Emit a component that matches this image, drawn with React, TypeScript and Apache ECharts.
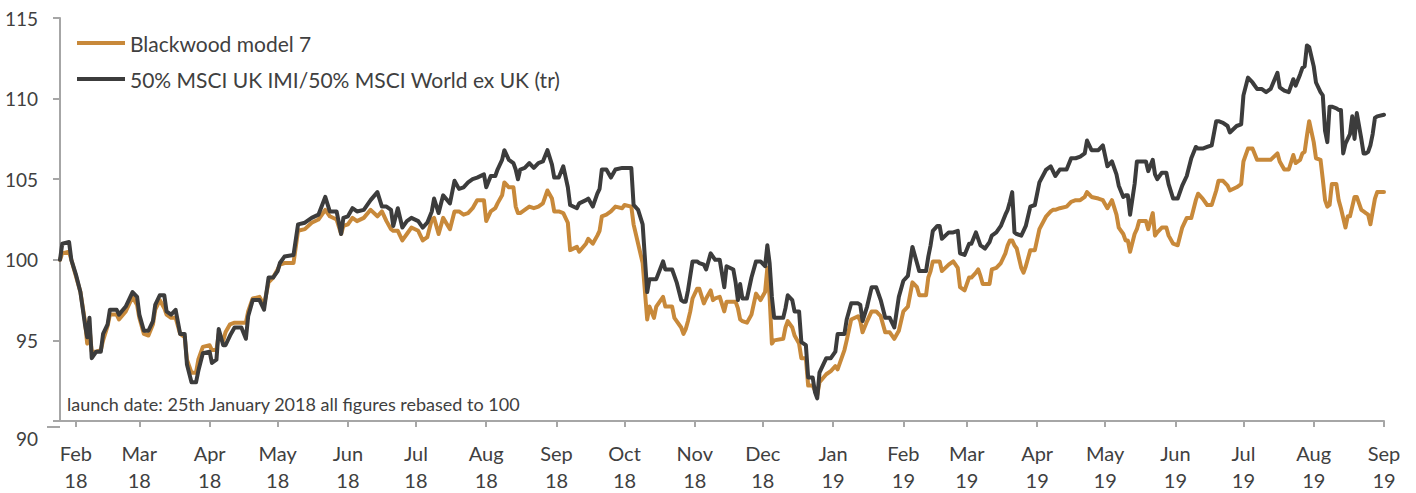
import React, { useEffect, useRef } from "react";
import * as echarts from "echarts";

// Days since launch (25 Jan 2018)
const days = [
  0, 1, 4, 5, 7, 9, 11, 12, 13, 14, 16, 18, 19, 21, 22, 25, 26, 29, 32, 34, 35, 37, 39, 41, 42, 44, 46, 47, 49, 51,
  53, 55, 56, 58, 60, 61, 63, 66, 67, 69, 70, 72, 73, 75, 77, 80, 82, 83, 85, 88, 90, 92, 94, 96, 97, 99,
  103, 105, 108, 111, 114, 117, 119, 122, 124, 125, 127, 129, 131, 134, 137, 140, 142, 144, 146, 147, 149, 151,
  153, 155, 158, 160, 162, 164, 165, 167, 169, 172, 174, 176, 178, 180, 182, 184, 187, 188, 190, 192, 193, 195,
  196, 198, 200, 201, 202, 203, 205, 207, 209, 211, 213, 215, 217, 218, 220, 222, 224, 225, 228, 229, 232, 233,
  235, 237, 238, 239, 241, 243, 245, 248, 249, 252, 253, 255, 257, 259, 260, 262, 263, 266, 267, 270, 271, 272,
  274, 275, 276, 277, 278, 279, 281, 282, 284, 285, 287, 288, 289, 291, 293, 294, 297, 298, 299, 300, 301, 303,
  305, 307, 309, 311, 312, 313, 314, 315, 319, 320, 321, 323, 324, 326, 327, 329, 330, 332, 333, 334, 335, 338,
  340, 342, 343, 346, 347, 349, 352, 353, 354, 356, 358, 360, 362, 364, 366, 368, 370, 372, 374, 376, 378, 379,
  382, 383, 384, 385, 387, 388, 389, 392, 394, 396, 397, 399, 401, 402, 404, 405, 406, 407, 408, 410, 411, 413,
  415, 417, 418, 419, 420, 421, 422, 424, 425, 426, 428, 430, 432, 435, 437, 438, 439, 441, 444, 446, 448, 450,
  452, 453, 455, 458, 460, 462, 464, 466, 467, 469, 470, 471, 472, 474, 475, 476, 479, 480, 482, 483, 484, 486,
  488, 489, 491, 493, 495, 497, 499, 501, 502, 504, 506, 508, 510, 511, 513, 515, 516, 519, 521, 522, 524, 526,
  528, 530, 532, 534, 537, 538, 540, 542, 544, 545, 547, 548, 549, 550, 551, 553, 554, 556, 557, 558, 559, 560,
  561, 563, 564, 565, 566, 567, 568, 569, 570, 571, 572, 574, 575, 576, 577, 578, 579, 580, 581, 584,
];

const msciBlend = [
  100.0, 101.0, 101.1, 100.0, 99.1, 98.0, 96.0, 95.2, 96.4, 93.9, 94.3, 94.3, 95.4, 96.0, 96.9, 96.9, 96.6, 97.1, 98.0, 97.7, 96.6, 95.6, 95.6, 96.2, 97.2, 97.8, 97.8, 96.8, 96.6, 96.9,
  95.4, 95.4, 93.5, 92.4, 92.4, 93.1, 94.2, 94.3, 93.6, 93.8, 95.7, 94.7, 94.7, 95.3, 95.8, 95.8, 95.1, 96.5, 97.5, 97.5, 96.9, 98.9, 98.9, 99.3, 99.8, 100.2,
  100.3, 102.2, 102.3, 102.6, 102.8, 103.9, 103.0, 103.0, 101.6, 102.6, 102.7, 103.2, 103.0, 103.1, 103.7, 104.2, 103.3, 103.3, 103.1, 102.1, 103.2, 102.0,
  102.4, 102.6, 102.4, 102.0, 102.3, 103.0, 103.8, 102.9, 104.0, 103.5, 104.9, 104.4, 104.5, 104.8, 105.0, 105.1, 105.3, 104.5, 105.2, 105.2, 105.6, 106.2,
  106.8, 106.2, 106.0, 105.6, 105.0, 105.6, 105.7, 106.0, 105.7, 106.0, 106.1, 106.8, 105.9, 105.1, 105.1, 105.8, 104.5, 103.4, 103.2, 103.5, 103.7, 103.8,
  103.3, 104.1, 104.4, 105.6, 105.6, 105.1, 105.6, 105.7, 105.7, 105.7, 103.4, 103.1, 102.2, 98.0, 98.8, 98.8, 98.8, 99.9, 99.4, 99.4, 99.0, 98.6,
  97.5, 97.4, 97.4, 98.1, 99.0, 99.9, 99.9, 99.8, 99.7, 99.4, 100.4, 100.2, 100.0, 100.0, 98.3, 99.6, 99.4, 98.6, 97.5, 98.5, 97.6, 97.6,
  98.9, 99.9, 99.9, 99.6, 100.9, 99.8, 97.7, 96.4, 96.4, 97.0, 97.8, 97.5, 96.8, 96.8, 94.9, 94.7, 92.7, 92.7, 91.8, 91.4, 93.0, 93.9,
  93.9, 94.3, 95.4, 95.4, 96.3, 97.3, 97.3, 97.2, 96.2, 97.1, 98.3, 98.3, 97.5, 96.4, 96.4, 95.8, 97.7, 98.7, 99.0, 100.8, 99.8, 99.3,
  99.3, 100.2, 100.9, 101.8, 102.1, 102.1, 101.3, 101.7, 101.7, 101.8, 100.4, 100.3, 101.0, 101.0, 101.7, 101.3, 100.9, 100.8, 100.7, 101.1, 101.5, 101.7,
  102.1, 102.8, 103.1, 103.6, 104.2, 101.7, 101.6, 101.5, 101.8, 102.1, 103.3, 103.4, 104.8, 105.6, 105.8, 105.5, 105.2, 105.6, 105.6, 106.3, 106.3, 106.4,
  106.6, 107.4, 106.8, 106.8, 107.1, 105.8, 106.1, 105.3, 104.6, 103.9, 104.0, 104.0, 102.8, 104.7, 106.1, 106.1, 106.1, 105.5, 106.2, 105.3, 105.0, 105.4,
  105.4, 104.7, 103.8, 103.8, 104.6, 105.2, 106.3, 107.0, 106.9, 106.9, 107.0, 107.1, 108.6, 108.6, 108.5, 108.3, 107.9, 108.3, 108.4, 110.2, 111.3, 111.0,
  110.6, 110.6, 110.4, 110.6, 111.6, 110.7, 110.5, 110.4, 111.2, 110.8, 111.5, 111.9, 112.0, 113.3, 113.2, 112.0, 111.0, 110.4, 110.2, 108.0, 107.3, 109.5,
  109.5, 109.4, 109.3, 109.3, 106.6, 107.2, 107.5, 107.8, 108.9, 107.5, 109.1, 107.5, 106.6, 106.6, 106.7, 107.1, 107.8, 108.8, 108.9, 109.0,
];

const blackwood = [
  100.0, 100.4, 100.5, 100.0, 99.0, 98.0, 96.2, 94.8, 95.8, 94.3, 94.3, 94.4, 95.0, 95.9, 96.6, 96.6, 96.3, 96.8, 97.7, 97.2, 96.4, 95.4, 95.3, 96.0, 96.9, 97.5, 97.0, 96.6, 96.4, 96.4,
  95.4, 95.2, 93.8, 93.0, 93.0, 93.8, 94.6, 94.7, 94.4, 94.4, 95.4, 95.0, 95.5, 96.0, 96.1, 96.1, 96.1, 96.8, 97.6, 97.7, 97.2, 98.6, 98.9, 99.4, 99.7, 99.8,
  99.8, 101.8, 101.9, 102.3, 102.5, 103.1, 102.7, 102.5, 101.6, 102.1, 102.2, 102.6, 102.4, 102.6, 103.1, 102.7, 103.0, 102.4, 101.9, 101.8, 101.8, 101.2,
  101.6, 102.0, 101.8, 101.2, 101.4, 102.5, 102.6, 101.6, 102.6, 101.9, 103.0, 103.0, 102.8, 102.9, 103.2, 103.7, 103.7, 102.4, 103.0, 103.2, 103.5, 104.0,
  104.8, 104.5, 104.5, 103.3, 102.9, 102.9, 103.1, 103.3, 103.2, 103.3, 103.5, 104.3, 103.8, 103.0, 103.0, 102.9, 102.3, 100.6, 100.8, 100.5, 101.0, 101.3,
  101.0, 101.5, 101.8, 102.7, 102.8, 103.0, 103.3, 103.2, 103.4, 103.3, 102.2, 101.0, 99.8, 96.3, 97.1, 96.4, 97.1, 97.7, 97.1, 97.1, 96.4, 96.2,
  95.8, 95.4, 95.7, 96.2, 96.8, 97.6, 98.2, 98.2, 97.3, 97.6, 98.1, 97.5, 97.6, 97.7, 96.8, 97.4, 97.4, 97.4, 97.0, 96.3, 96.2, 96.1,
  96.6, 97.9, 97.5, 98.0, 99.5, 97.7, 94.8, 95.0, 95.1, 95.8, 96.2, 95.8, 95.3, 94.8, 93.9, 93.9, 92.2, 92.2, 91.9, 91.6, 92.4, 92.9,
  93.1, 93.4, 93.2, 94.4, 95.0, 96.3, 96.5, 96.2, 95.5, 96.2, 96.8, 96.8, 96.5, 95.5, 95.5, 95.1, 95.6, 96.8, 97.1, 98.6, 98.3, 97.8,
  97.8, 98.9, 99.3, 99.9, 99.9, 99.9, 99.3, 99.7, 99.9, 99.5, 98.3, 98.1, 98.9, 98.9, 99.2, 99.4, 99.0, 98.5, 98.5, 98.5, 99.4, 99.5,
  99.8, 100.4, 100.9, 101.2, 101.2, 100.9, 100.7, 99.5, 99.2, 99.6, 100.6, 100.6, 101.9, 102.7, 103.0, 103.1, 103.1, 103.2, 103.3, 103.6, 103.7, 103.7,
  103.9, 104.2, 103.9, 103.8, 103.7, 103.2, 103.7, 102.8, 102.0, 101.6, 101.2, 101.2, 100.5, 101.6, 101.9, 102.4, 102.4, 101.9, 102.9, 101.5, 101.7, 102.0,
  102.0, 101.5, 101.0, 100.9, 102.0, 102.6, 102.6, 103.7, 104.1, 103.8, 103.4, 103.4, 104.3, 104.9, 104.9, 104.6, 104.3, 104.5, 104.7, 106.1, 106.9, 106.9,
  106.2, 106.2, 106.2, 106.2, 106.6, 106.1, 105.6, 105.6, 106.5, 106.0, 106.2, 106.6, 106.7, 107.7, 108.6, 107.3, 106.3, 106.2, 105.0, 103.7, 103.3, 103.4,
  104.7, 104.7, 103.7, 103.2, 102.6, 102.0, 102.7, 102.7, 103.3, 103.9, 103.9, 103.1, 103.0, 102.9, 102.8, 102.2, 103.0, 103.8, 104.2, 104.2,
];

const monthTickDays = [7, 35, 66, 96, 127, 157, 188, 219, 249, 280, 310, 341, 372, 400, 431, 461, 492, 522, 553, 584];
const monthTickLabels = [
  "Feb\n18", "Mar\n18", "Apr\n18", "May\n18", "Jun\n18", "Jul\n18", "Aug\n18", "Sep\n18", "Oct\n18", "Nov\n18",
  "Dec\n18", "Jan\n19", "Feb\n19", "Mar\n19", "Apr\n19", "May\n19", "Jun\n19", "Jul\n19", "Aug\n19", "Sep\n19",
];

const seriesNames = ["Blackwood model 7", "50% MSCI UK IMI/50% MSCI World ex UK (tr)"];
const noteText = "launch date: 25th January 2018 all figures rebased to 100";

const FONT = "Lato, 'Open Sans', sans-serif";
const TEXT = "#404040";
const AXIS = "#a6a6a6";

export default function App() {
  const ref = useRef<HTMLDivElement>(null);
  useEffect(() => {
    document.body.style.margin = "0";
    if (!ref.current) return;
    const chart = echarts.init(ref.current, undefined, { renderer: "svg" });
    const bwData = days.map((d, i) => [d, blackwood[i]]);
    const msData = days.map((d, i) => [d, msciBlend[i]]);
    chart.setOption({
      animation: false,
      grid: { left: 60, right: 32, top: 18, bottom: 66, containLabel: false },
      legend: {
        orient: "vertical",
        left: 77,
        top: 32,
        padding: 0,
        itemWidth: 48,
        itemHeight: 4,
        itemGap: 14,
        icon: "rect",
        textStyle: { fontFamily: FONT, fontSize: 21, color: TEXT, lineHeight: 22 },
        data: seriesNames,
      },
      xAxis: {
        type: "value",
        min: 0,
        max: 584,
        axisLine: { show: true, onZero: false, lineStyle: { color: AXIS, width: 2 } },
        axisTick: { show: true, customValues: monthTickDays, length: 6, lineStyle: { color: AXIS, width: 2 } },
        axisLabel: {
          customValues: monthTickDays,
          formatter: (v: number) => {
            const i = monthTickDays.indexOf(Math.round(v));
            return i >= 0 ? monthTickLabels[i] : "";
          },
          fontFamily: FONT,
          fontSize: 20,
          lineHeight: 27,
          color: TEXT,
          margin: 18,
          showMinLabel: true,
          showMaxLabel: true,
        },
        splitLine: { show: false },
      },
      yAxis: {
        type: "value",
        min: 90,
        max: 115,
        interval: 5,
        axisLine: { show: true, onZero: false, lineStyle: { color: AXIS, width: 2 } },
        axisTick: { show: true, length: 7, lineStyle: { color: AXIS, width: 2 } },
        axisLabel: {
          fontFamily: FONT,
          fontSize: 19,
          color: TEXT,
          margin: 22,
          formatter: (v: number) => (v === 90 ? "" : String(v)),
        },
        splitLine: { show: false },
      },
      graphic: [
        { type: "line", shape: { x1: 47, y1: 427, x2: 60, y2: 427 }, style: { stroke: AXIS, lineWidth: 2 } },
        {
          type: "text",
          x: 38,
          y: 438,
          style: { text: "90", font: `19px ${FONT}`, fill: TEXT, textAlign: "right", textVerticalAlign: "middle" },
        },
        {
          type: "text",
          x: 67,
          y: 404,
          style: { text: noteText, font: `18px ${FONT}`, fill: TEXT, textVerticalAlign: "middle" },
        },
      ],
      series: [
        {
          name: seriesNames[0],
          type: "line",
          data: bwData,
          symbol: "none",
          lineStyle: { color: "#c8893a", width: 4, cap: "round", join: "round" },
          itemStyle: { color: "#c8893a" },
        },
        {
          name: seriesNames[1],
          type: "line",
          data: msData,
          symbol: "none",
          lineStyle: { color: "#3c3c3c", width: 4, cap: "round", join: "round" },
          itemStyle: { color: "#3c3c3c" },
        },
      ],
    });
    return () => chart.dispose();
  }, []);
  return <div ref={ref} style={{ width: 1416, height: 493 }} />;
}
